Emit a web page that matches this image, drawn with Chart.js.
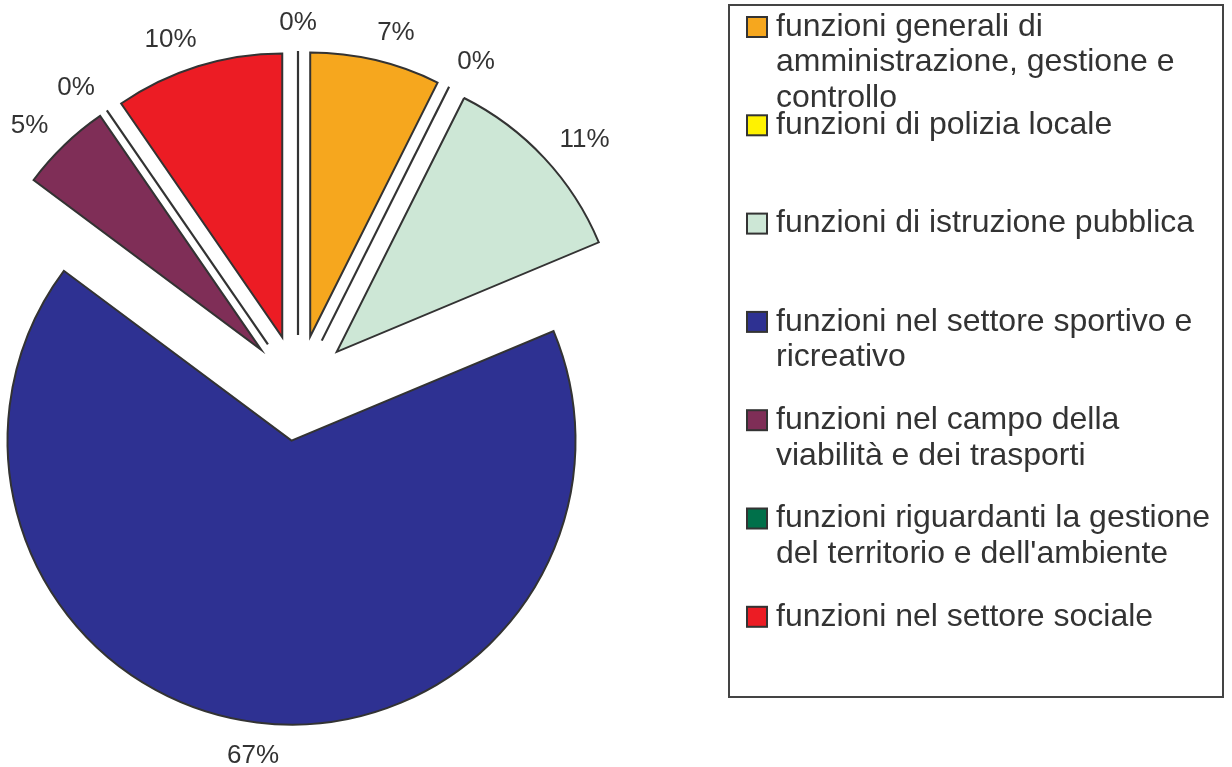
<!DOCTYPE html>
<html>
<head>
<meta charset="utf-8">
<script src="https://cdn.jsdelivr.net/npm/chart.js@4"></script>
<style>
  html, body { margin: 0; padding: 0; background: #fff; }
  #wrap { position: relative; width: 1232px; height: 767px; }
</style>
</head>
<body>
<div id="wrap"><canvas id="torta" width="1232" height="767"></canvas></div>
<script>
// categorie (righe della legenda gia' spezzate)
const categorie = [
  ['funzioni generali di', 'amministrazione, gestione e', 'controllo'],
  ['funzioni di polizia locale'],
  ['funzioni di istruzione pubblica'],
  ['funzioni nel settore sportivo e', 'ricreativo'],
  ['funzioni nel campo della', 'viabilità e dei trasporti'],
  ['funzioni riguardanti la gestione', "del territorio e dell'ambiente"],
  ['funzioni nel settore sociale'],
  ['']
]
// quote percentuali
const valori = [7.4, 0, 11.3, 66.5, 5.2, 0, 9.6, 0]
const colori = ['#F6A71E', '#FFF200', '#CDE7D6', '#2E3192', '#7F2E57', '#00704A', '#EC1C24', '#FFFFFF']

const stacco = 53      // esplosione delle fette
const raggio = 284
const raggioEtichette = 368

// disegno fette esplose
const esplodi = {
  id: 'esplodi',
  beforeDatasetDraw(chart, args) {
    const ctx = chart.ctx
    const meta = args.meta
    meta.data.forEach((arc) => {
      const mid = (arc.startAngle + arc.endAngle) / 2
      ctx.save()
      ctx.translate(Math.cos(mid) * stacco, Math.sin(mid) * stacco)
      if (arc.circumference > 0) {
        arc.draw(ctx)
      } else {
        // fetta a zero: solo il bordo
        ctx.strokeStyle = '#333333'
        ctx.lineWidth = 2.2
        ctx.beginPath()
        ctx.moveTo(arc.x, arc.y)
        ctx.lineTo(arc.x + Math.cos(mid) * arc.outerRadius, arc.y + Math.sin(mid) * arc.outerRadius)
        ctx.stroke()
      }
      ctx.restore()
    })
    return false
  },
  // etichette percentuali
  afterDatasetsDraw(chart) {
    const ctx = chart.ctx
    const meta = chart.getDatasetMeta(0)
    const dati = chart.data.datasets[0].data
    const tot = dati.reduce((a, b) => a + b, 0)
    ctx.save()
    ctx.font = '26px "Liberation Sans", Arial, sans-serif'
    ctx.fillStyle = '#333333'
    ctx.textAlign = 'center'
    ctx.textBaseline = 'middle'
    meta.data.forEach((arc, i) => {
      const testo = Math.round(dati[i] / tot * 100) + '%'
      const w = ctx.measureText(testo).width
      const mid = (arc.startAngle + arc.endAngle) / 2
      const cx = Math.cos(mid), cy = Math.sin(mid)
      let x = arc.x + cx * raggioEtichette
      if (Math.abs(cx) > 0.2) x += Math.sign(cx) * w * 0.35
      const y = arc.y + cy * raggioEtichette + 3
      ctx.fillText(testo, x, y)
    })
    ctx.restore()
  }
}

// legenda a destra
const legenda = {
  id: 'legenda',
  afterDraw(chart) {
    const ctx = chart.ctx
    ctx.save()
    ctx.strokeStyle = '#444444'
    ctx.lineWidth = 2
    ctx.strokeRect(729, 5, 494, 692)
    ctx.font = '32px "Liberation Sans", Arial, sans-serif'
    ctx.textBaseline = 'middle'
    ctx.textAlign = 'left'
    chart.data.labels.forEach((righe, i) => {
      if (!righe[0]) return
      const y0 = 27 + i * 98.3
      ctx.fillStyle = colori[i]
      ctx.fillRect(747, y0 - 10, 20, 20)
      ctx.strokeStyle = '#333333'
      ctx.lineWidth = 2
      ctx.strokeRect(747, y0 - 10, 20, 20)
      ctx.fillStyle = '#333333'
      righe.forEach((r, k) => ctx.fillText(r, 776, y0 + k * 35.5))
    })
    ctx.restore()
  }
}

new Chart(document.getElementById('torta'), {
  type: 'pie',
  data: {
    labels: categorie,
    datasets: [{
      data: valori,
      backgroundColor: colori,
      borderColor: '#333333',
      borderWidth: 2,
      borderJoinStyle: 'miter'
    }]
  },
  options: {
    responsive: false,
    animation: false,
    radius: raggio,
    layout: { padding: { left: 0, right: 636, top: 9, bottom: 0 } },
    plugins: {
      legend: { display: false },
      tooltip: { enabled: false }
    }
  },
  plugins: [esplodi, legenda]
})
</script>
</body>
</html>
